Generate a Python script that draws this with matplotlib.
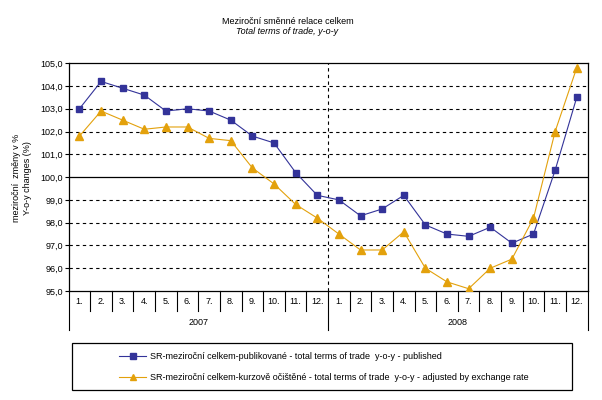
import matplotlib
matplotlib.use('Agg')
import matplotlib.pyplot as plt
from matplotlib.ticker import FuncFormatter
from matplotlib.patches import Rectangle
import matplotlib.transforms as mtransforms

plt.rcParams['font.family'] = ['Liberation Sans', 'DejaVu Sans']

months = ['1.', '2.', '3.', '4.', '5.', '6.', '7.', '8.', '9.', '10.', '11.', '12.'] * 2
years = ['2007', '2008']
published = [103.0, 104.2, 103.9, 103.6, 102.9, 103.0, 102.9, 102.5, 101.8, 101.5, 100.2, 99.2,
             99.0, 98.3, 98.6, 99.2, 97.9, 97.5, 97.4, 97.8, 97.1, 97.5, 100.3, 103.5]
adjusted = [101.8, 102.9, 102.5, 102.1, 102.2, 102.2, 101.7, 101.6, 100.4, 99.7, 98.8, 98.2,
            97.5, 96.8, 96.8, 97.6, 96.0, 95.4, 95.1, 96.0, 96.4, 98.2, 102.0, 104.8]

lbl_pub = 'SR-meziroční celkem-publikované - total terms of trade  y-o-y - published'
lbl_adj = 'SR-meziroční celkem-kurzově očištěné - total terms of trade  y-o-y - adjusted by exchange rate'

fig = plt.figure(figsize=(6.02, 4.0), dpi=100)
ax = fig.add_axes([0.114, 0.2725, 0.862, 0.5695])

x = list(range(len(months)))
ax.set_xlim(-0.5, 23.5)
ax.set_ylim(95, 105)

# mřížka
for v in range(96, 105):
    if v == 100:
        ax.axhline(v, color='black', lw=0.9)
    else:
        ax.axhline(v, color='black', lw=0.8, ls=(0, (3, 3)))
ax.axvline(11.5, color='black', lw=0.8, ls=(0, (3, 3)))

ax.plot(x, published, color='#333399', lw=0.8, marker='s', markersize=5,
        markeredgecolor='#333399', label=lbl_pub, zorder=3)
ax.plot(x, adjusted, color='#E3A10C', lw=0.8, marker='^', markersize=6,
        markeredgecolor='#E3A10C', label=lbl_adj, zorder=3)

for s in ax.spines.values():
    s.set_linewidth(0.9)

ax.set_xticks([])
ax.set_yticks(range(95, 106))
ax.yaxis.set_major_formatter(FuncFormatter(lambda v, p: ('%.1f' % v).replace('.', ',')))
ax.tick_params(axis='y', length=3, width=0.8, labelsize=6.5, pad=1)

# tabulka kategorií pod grafem
trans = mtransforms.blended_transform_factory(ax.transData, ax.transAxes)
for i in range(len(months) + 1):
    xb = i - 0.5
    low = -0.17 if i in (0, 12, 24) else -0.088
    ax.plot([xb, xb], [0, low], color='black', lw=0.8, transform=trans, clip_on=False)
for i, m in enumerate(months):
    ax.text(i, -0.045, m, transform=trans, ha='center', va='center', fontsize=6.5)
ax.text(5.5, -0.14, years[0], transform=trans, ha='center', va='center', fontsize=6.5)
ax.text(17.5, -0.14, years[1], transform=trans, ha='center', va='center', fontsize=6.5)

fig.text(0.037, 0.555, 'meziroční  změny v %\nY-o-y changes (%)',
         rotation=90, ha='center', va='center', fontsize=6.5, linespacing=1.3)

fig.text(287.5 / 602, 1 - 21 / 400, 'Meziroční směnné relace celkem', ha='center', va='center', fontsize=6.5)
fig.text(287.5 / 602, 1 - 31 / 400, 'Total terms of trade, y-o-y', ha='center', va='center',
         fontsize=6.5, style='italic')

# legenda
fig.patches.append(Rectangle((72 / 602, 1 - 390 / 400), 500 / 602, 47 / 400, transform=fig.transFigure,
                             fill=False, edgecolor='black', lw=0.9))
leg = fig.legend(loc='center left', bbox_to_anchor=(119 / 602, 1 - 367 / 400),
                 fontsize=6.5, frameon=False, handlelength=3.0, handletextpad=0.4,
                 labelspacing=1.3, borderaxespad=0, borderpad=0)
for h in leg.legend_handles:
    h.set_markersize(4.5)

fig.savefig('out.png', dpi=100)
